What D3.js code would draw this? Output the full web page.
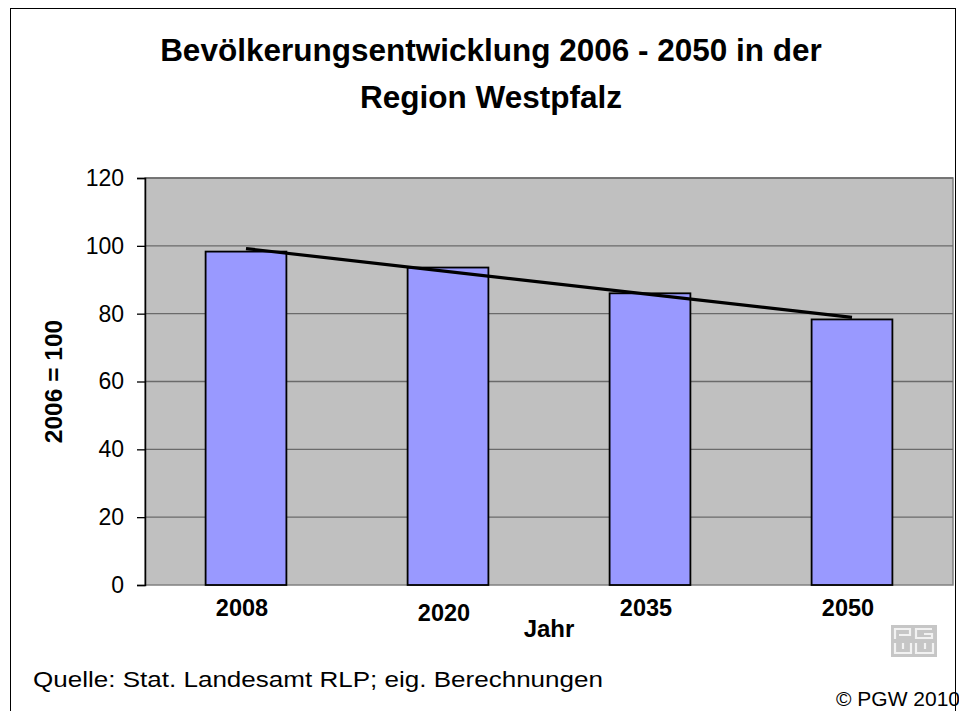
<!DOCTYPE html>
<html>
<head>
<meta charset="utf-8">
<script src="https://cdn.jsdelivr.net/npm/d3@7"></script>
<style>
    body { margin: 0; background: #fff; }
    .text { font-family: "Liberation Sans", Arial, sans-serif; fill: #000; }
</style>
</head>
<body>
<div id="chart"></div>
<script>
// Data
const years = ["2008", "2020", "2035", "2050"];
const values = [98.3, 93.6, 86.0, 78.3];
const yTicks = [0, 20, 40, 60, 80, 100, 120];

const titleLines = ["Bevölkerungsentwicklung 2006 - 2050 in der", "Region Westpfalz"];
const yLabel = "2006 = 100";
const xLabel = "Jahr";
const sourceText = "Quelle: Stat. Landesamt RLP; eig. Berechnungen";
const copyText = "© PGW 2010";

const dimensions = {
    width: 959,
    height: 711,
    margins: { top: 178, right: 6, bottom: 126, left: 145 }
};
dimensions.bordWidth = dimensions.width - dimensions.margins.left - dimensions.margins.right;
dimensions.bordHeight = dimensions.height - dimensions.margins.top - dimensions.margins.bottom;

const svg = d3.select("#chart")
    .append("svg")
    .attr("width", dimensions.width)
    .attr("height", dimensions.height);

// outer frame
svg.append("rect")
    .attr("x", 10.5)
    .attr("y", 8.5)
    .attr("width", 945)
    .attr("height", 720)
    .attr("fill", "none")
    .attr("stroke", "#000")
    .attr("stroke-width", 1);

// title
svg.selectAll("text.title")
    .data(titleLines)
    .join("text")
    .attr("class", "title text")
    .attr("x", 491)
    .attr("y", (d, i) => 61 + i * 47)
    .attr("text-anchor", "middle")
    .style("font-size", "31.5px")
    .style("font-weight", "bold")
    .text(d => d);

const borders = svg.append("g")
    .attr("transform", `translate(${dimensions.margins.left}, ${dimensions.margins.top})`);

// scales
const xScale = d3.scaleBand()
    .domain(years)
    .range([0, dimensions.bordWidth])
    .paddingInner(0.6)
    .paddingOuter(0.3);

const yScale = d3.scaleLinear()
    .domain([0, 120])
    .range([dimensions.bordHeight, 0]);

// plot area
borders.append("rect")
    .attr("width", dimensions.bordWidth)
    .attr("height", dimensions.bordHeight)
    .attr("fill", "#c0c0c0")
    .attr("stroke", "#808080")
    .attr("stroke-width", 1.5);

// gridlines
borders.append("g")
    .selectAll("line")
    .data(yTicks.filter(d => d > 0))
    .join("line")
    .attr("x1", 0)
    .attr("x2", dimensions.bordWidth)
    .attr("y1", d => yScale(d))
    .attr("y2", d => yScale(d))
    .attr("stroke", "#6a6a6a")
    .attr("stroke-width", 1.3);

// bars
borders.append("g")
    .selectAll("rect")
    .data(values)
    .join("rect")
    .attr("x", (d, i) => xScale(years[i]))
    .attr("y", d => yScale(d))
    .attr("width", xScale.bandwidth())
    .attr("height", d => yScale(0) - yScale(d))
    .attr("fill", "#9999ff")
    .attr("stroke", "#000")
    .attr("stroke-width", 1.8);

// linear trend line (least squares over category index)
const idx = values.map((d, i) => i + 1);
const meanX = d3.mean(idx);
const meanY = d3.mean(values);
const slope = d3.sum(idx, (x, i) => (x - meanX) * (values[i] - meanY)) /
    d3.sum(idx, x => (x - meanX) ** 2);
const intercept = meanY - slope * meanX;
const trend = [idx[0], idx[idx.length - 1]].map(x => [
    xScale(years[x - 1]) + xScale.bandwidth() / 2,
    yScale(intercept + slope * x)
]);

borders.append("path")
    .attr("d", d3.line()(trend))
    .attr("fill", "none")
    .attr("stroke", "#000")
    .attr("stroke-width", 3.2);

// y axis
const yAxis = borders.append("g")
    .call(d3.axisLeft(yScale).tickValues(yTicks).tickSize(8).tickPadding(13));
yAxis.select(".domain").attr("stroke", "#000").attr("stroke-width", 1.5);
yAxis.selectAll(".tick line").attr("stroke", "#000").attr("stroke-width", 1.3);
yAxis.selectAll(".tick text")
    .attr("class", "text")
    .style("font-size", "23px")
    .attr("font-family", null);

// x axis labels
borders.append("g")
    .selectAll("text")
    .data(years)
    .join("text")
    .attr("class", "text")
    .attr("x", d => xScale(d) + xScale.bandwidth() / 2 - 4)
    .attr("y", (d, i) => dimensions.bordHeight + 31 + (i === 1 ? 5 : 0))
    .attr("text-anchor", "middle")
    .style("font-size", "23.5px")
    .style("font-weight", "bold")
    .text(d => d);

// axis labels
svg.append("text")
    .attr("class", "text")
    .attr("x", dimensions.margins.left + dimensions.bordWidth / 2)
    .attr("y", 637)
    .attr("text-anchor", "middle")
    .style("font-size", "24px")
    .style("font-weight", "bold")
    .text(xLabel);

svg.append("text")
    .attr("class", "text")
    .attr("transform", `translate(62, ${dimensions.margins.top + dimensions.bordHeight / 2}) rotate(-90)`)
    .attr("text-anchor", "middle")
    .style("font-size", "24.5px")
    .style("font-weight", "bold")
    .text(yLabel);

// source and copyright
svg.append("text")
    .attr("class", "text")
    .attr("x", 33)
    .attr("y", 687)
    .attr("textLength", 570)
    .attr("lengthAdjust", "spacingAndGlyphs")
    .style("font-size", "22px")
    .text(sourceText);

svg.append("text")
    .attr("class", "text")
    .attr("x", 836)
    .attr("y", 706)
    .style("font-size", "21px")
    .text(copyText);

// logo
const logo = svg.append("g")
    .attr("transform", "translate(891, 625)");
logo.append("rect")
    .attr("width", 46)
    .attr("height", 32)
    .attr("fill", "#c6c6c6");
const logoPaths = [
    "M4,14 V4 H19 V10 H8",
    "M41,4 H25 V13 H41 V9 H33",
    "M4,18 V28 H20 V18",
    "M12,18 V24",
    "M25,18 V28 H42 V18",
    "M34,18 V24"
];
logo.selectAll("path")
    .data(logoPaths)
    .join("path")
    .attr("d", d => d)
    .attr("fill", "none")
    .attr("stroke", "#f2f2f2")
    .attr("stroke-width", 2.2);
</script>
</body>
</html>
